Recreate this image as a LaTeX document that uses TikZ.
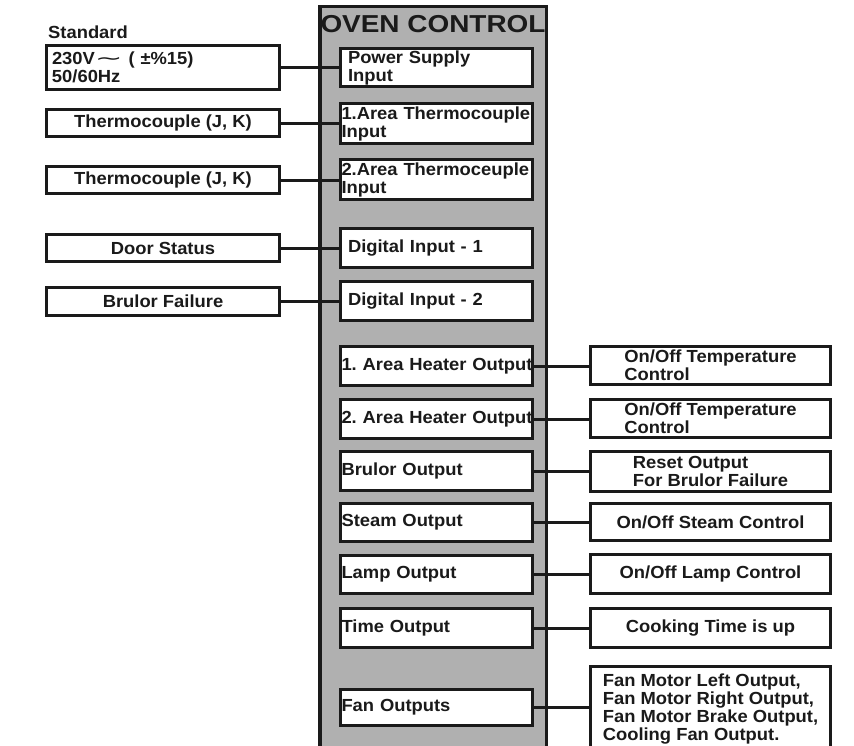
\documentclass[tikz,border=0pt]{standalone}
\usepackage{fontspec}
\usepackage{graphicx}
\setmainfont{Liberation Sans}[FakeStretch=1.05]
\newfontfamily\titlefont{Liberation Sans}[FakeStretch=1.14]
\newfontfamily\symfont{DejaVu Sans}
\usetikzlibrary{backgrounds}
\definecolor{ink}{RGB}{26,26,26}
\definecolor{panelgray}{RGB}{176,176,176}
\begin{document}
\begin{tikzpicture}[x=1pt,y=-1pt,
  every node/.style={font=\fontsize{17.5}{18}\selectfont\bfseries\frenchspacing, text=ink},
  box/.style={draw=ink, line width=3pt, fill=white, rectangle, outer sep=0pt, inner ysep=2pt},
  leftbox/.style={box, minimum width=233pt, align=center},
  inbox/.style={box, minimum width=192pt, inner xsep=1pt, text width=190pt, align=left},
  indent/.style={text width=177pt},
  outbox/.style={box, minimum width=240pt, align=left},
  wire/.style={draw=ink, line width=3pt},
  panelbox/.style={draw=ink, line width=3.5pt, fill=panelgray, minimum width=226.5pt,
    minimum height=800pt, anchor=north, inner sep=0pt},
  titletext/.style={anchor=base, inner sep=0pt, font=\titlefont\fontsize{24.5}{24.5}\selectfont\bfseries}
]
\useasboundingbox (0,0) rectangle (854,745);

\begin{pgfonlayer}{background}
  \node[panelbox] (panel) at (433,4.75) {};
\end{pgfonlayer}
\node[titletext] (title) at (433,32) {OVEN CONTROL};

% left column
\node[anchor=base west, inner sep=0pt] (std) at (48,38) {Standard};
\node[leftbox, minimum height=44pt, text width=222pt, align=left] (L1) at (163,67.5)
  {230V{\symfont\mdseries\scalebox{1.9}[1]{∼}} ( ±\%15)\\50/60Hz};
\node[leftbox, minimum height=27pt] (L2) at (163,123) {Thermocouple (J, K)};
\node[leftbox, minimum height=27pt] (L3) at (163,180) {Thermocouple (J, K)};
\node[leftbox, minimum height=27pt] (L4) at (163,248) {Door Status};
\node[leftbox, minimum height=28pt] (L5) at (163,301.5) {Brulor Failure};

% inner column
\node[inbox, indent, minimum height=38pt] (I1) at (436.5,67.5) {Power Supply\\Input};
\node[inbox, minimum height=40pt] (I2) at (436.5,123.5) {\mbox{1.Area Thermocouple}\\Input};
\node[inbox, minimum height=40pt] (I3) at (436.5,179.5) {\mbox{2.Area Thermoceuple}\\Input};
\node[inbox, indent, minimum height=39pt] (I4) at (436.5,248) {Digital Input - 1};
\node[inbox, indent, minimum height=39pt] (I5) at (436.5,301) {Digital Input - 2};
\node[inbox, minimum height=39pt] (I6) at (436.5,366) {\mbox{1. Area Heater Output}};
\node[inbox, minimum height=39pt] (I7) at (436.5,419) {\mbox{2. Area Heater Output}};
\node[inbox, minimum height=39pt] (I8) at (436.5,471) {Brulor Output};
\node[inbox, minimum height=38pt] (I9) at (436.5,522.5) {Steam Output};
\node[inbox, minimum height=38pt] (I10) at (436.5,574.5) {Lamp Output};
\node[inbox, minimum height=39pt] (I11) at (436.5,628) {Time Output};
\node[inbox, minimum height=36pt] (I12) at (436.5,707.5) {Fan Outputs};

% right column
\node[outbox, minimum height=38pt] (R1) at (710.5,365.5) {On/Off Temperature\\Control};
\node[outbox, minimum height=38pt] (R2) at (710.5,418.5) {On/Off Temperature\\Control};
\node[outbox, minimum height=40pt] (R3) at (710.5,471.5) {Reset Output\\For Brulor Failure};
\node[outbox, minimum height=37pt] (R4) at (710.5,522) {On/Off Steam Control};
\node[outbox, minimum height=39pt] (R5) at (710.5,574) {On/Off Lamp Control};
\node[outbox, minimum height=39pt] (R6) at (710.5,628) {Cooking Time is up};
\node[outbox, anchor=north, inner ysep=7pt] (R7) at (710.5,666.5)
  {Fan Motor Left Output,\\Fan Motor Right Output,\\Fan Motor Brake Output,\\Cooling Fan Output.};

\begin{pgfonlayer}{background}
  \draw[wire] (L1.east) -- (L1.east -| I1.west);
  \draw[wire] (L2.east) -- (L2.east -| I2.west);
  \draw[wire] (L3.east) -- (L3.east -| I3.west);
  \draw[wire] (L4.east) -- (L4.east -| I4.west);
  \draw[wire] (L5.east) -- (L5.east -| I5.west);
  \draw[wire] (I6.east) -- (I6.east -| R1.west);
  \draw[wire] (I7.east) -- (I7.east -| R2.west);
  \draw[wire] (I8.east) -- (I8.east -| R3.west);
  \draw[wire] (I9.east) -- (I9.east -| R4.west);
  \draw[wire] (I10.east) -- (I10.east -| R5.west);
  \draw[wire] (I11.east) -- (I11.east -| R6.west);
  \draw[wire] (I12.east) -- (I12.east -| R7.west);
\end{pgfonlayer}
\end{tikzpicture}
\end{document}
